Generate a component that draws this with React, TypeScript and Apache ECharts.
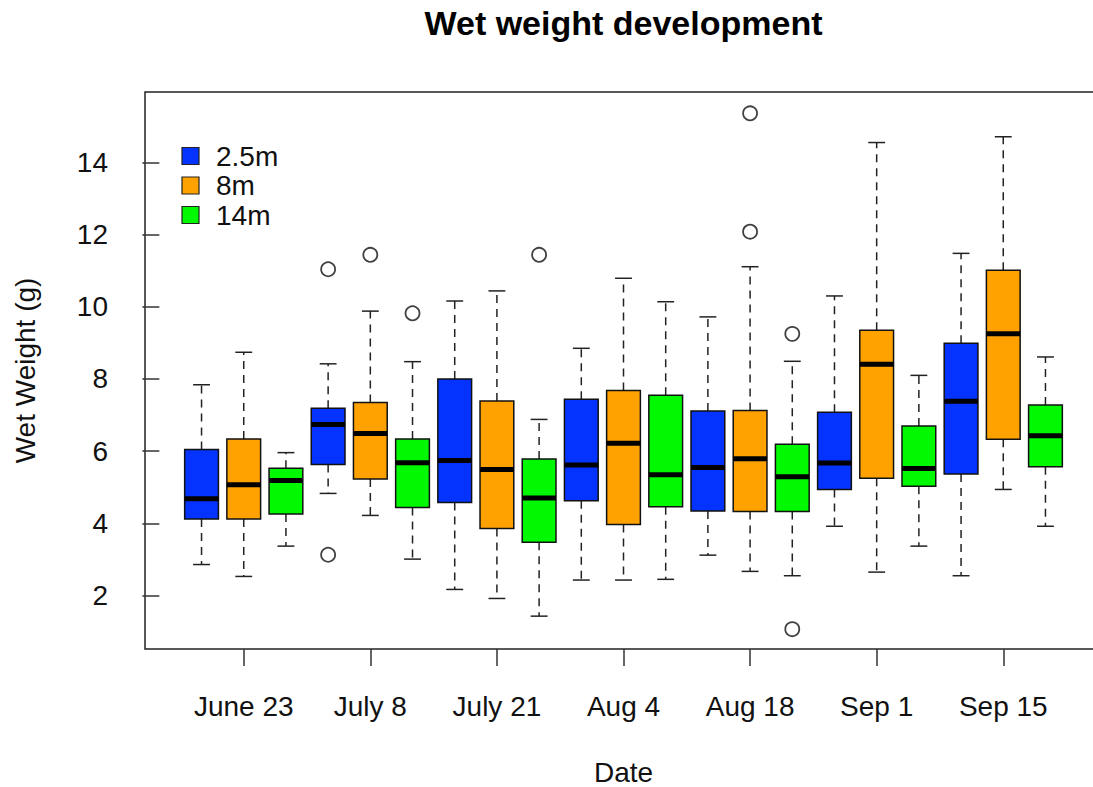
import React, { useEffect, useRef } from "react";
import * as echarts from "echarts";

const dates = ["June 23", "July 8", "July 21", "Aug 4", "Aug 18", "Sep 1", "Sep 15"];
const depths = ["2.5m", "8m", "14m"];
const depthColors = ["#0433FF", "#FFA200", "#00F900"];

// [lower whisker, Q1, median, Q3, upper whisker] per date
const stats2_5m = [
  [2.86, 4.12, 4.68, 6.05, 7.84],
  [4.83, 5.63, 6.74, 7.19, 8.42],
  [2.17, 4.58, 5.74, 8.0, 10.16],
  [2.43, 4.63, 5.62, 7.44, 8.85],
  [3.12, 4.34, 5.55, 7.11, 9.72],
  [3.92, 4.94, 5.67, 7.08, 10.3],
  [2.55, 5.37, 7.38, 8.99, 11.48],
];
const stats8m = [
  [2.53, 4.12, 5.07, 6.34, 8.74],
  [4.22, 5.23, 6.49, 7.35, 9.88],
  [1.92, 3.86, 5.49, 7.39, 10.44],
  [2.43, 3.97, 6.22, 7.68, 10.79],
  [2.67, 4.33, 5.79, 7.13, 11.11],
  [2.65, 5.25, 8.41, 9.35, 14.55],
  [4.94, 6.33, 9.25, 11.01, 14.71],
];
const stats14m = [
  [3.37, 4.26, 5.19, 5.53, 5.96],
  [3.01, 4.44, 5.68, 6.34, 8.48],
  [1.43, 3.48, 4.7, 5.78, 6.88],
  [2.45, 4.46, 5.35, 7.55, 10.14],
  [2.55, 4.33, 5.29, 6.19, 8.49],
  [3.37, 5.03, 5.52, 6.7, 8.1],
  [3.92, 5.57, 6.43, 7.28, 8.61],
];
// [date index, depth index, value]
const outliers = [
  [1, 0, 11.04],
  [1, 0, 3.13],
  [1, 1, 11.44],
  [1, 2, 9.82],
  [2, 2, 11.44],
  [4, 1, 15.36],
  [4, 1, 12.08],
  [4, 2, 9.25],
  [4, 2, 1.07],
];
const yTicks = [2, 4, 6, 8, 10, 12, 14];

const FONT = "'Liberation Sans', Arial, Helvetica, sans-serif";

export default function App() {
  const ref = useRef<HTMLDivElement>(null);
  useEffect(() => {
    if (!ref.current) return;
    const chart = echarts.init(ref.current, undefined, { renderer: "svg" });
    const allStats = [stats2_5m, stats8m, stats14m];
    const xTicks = dates.map((_, i) => i * 3 + 2);

    const boxSeries = allStats.map((st, d) => ({
      type: "custom",
      name: depths[d],
      data: st.map((s, i) => [i * 3 + d + 1, ...s]),
      encode: { x: 0, y: [1, 2, 3, 4, 5] },
      renderItem: (params: any, api: any) => {
        const x = api.value(0);
        const lo = api.coord([x, api.value(1)]);
        const q1 = api.coord([x, api.value(2)]);
        const md = api.coord([x, api.value(3)]);
        const q3 = api.coord([x, api.value(4)]);
        const hi = api.coord([x, api.value(5)]);
        const cx = lo[0];
        const half = api.size([0.8, 0])[0] / 2;
        const cap = half / 2;
        const wStyle = { stroke: "#222", lineWidth: 1.5, lineDash: [8, 6] };
        const sStyle = { stroke: "#222", lineWidth: 1.5 };
        return {
          type: "group",
          children: [
            { type: "line", shape: { x1: cx, y1: q3[1], x2: cx, y2: hi[1] }, style: wStyle },
            { type: "line", shape: { x1: cx, y1: q1[1], x2: cx, y2: lo[1] }, style: wStyle },
            { type: "line", shape: { x1: cx - cap, y1: hi[1], x2: cx + cap, y2: hi[1] }, style: sStyle },
            { type: "line", shape: { x1: cx - cap, y1: lo[1], x2: cx + cap, y2: lo[1] }, style: sStyle },
            {
              type: "rect",
              shape: { x: cx - half, y: q3[1], width: 2 * half, height: q1[1] - q3[1] },
              style: { fill: depthColors[d], stroke: "#111", lineWidth: 1.5 },
            },
            {
              type: "line",
              shape: { x1: cx - half, y1: md[1], x2: cx + half, y2: md[1] },
              style: { stroke: "#000", lineWidth: 5 },
            },
          ],
        };
      },
    }));

    const legendGraphics: any[] = [];
    depths.forEach((name, d) => {
      const cy = 156 + d * 29.5;
      legendGraphics.push({
        type: "rect",
        shape: { x: 182, y: cy - 8.5, width: 17, height: 17 },
        style: { fill: depthColors[d], stroke: "#222", lineWidth: 1.2 },
      });
      legendGraphics.push({
        type: "text",
        x: 216,
        y: cy,
        style: { text: name, fontSize: 28, fontFamily: FONT, fill: "#111", verticalAlign: "middle", align: "left" },
      });
    });

    chart.setOption({
      animation: false,
      backgroundColor: "#fff",
      grid: {
        left: 145,
        top: 92,
        width: 957,
        height: 557,
        show: true,
        borderColor: "#222",
        borderWidth: 1.5,
        backgroundColor: "transparent",
      },
      xAxis: {
        type: "value",
        min: -0.34,
        max: 22.34,
        axisLine: { show: false },
        splitLine: { show: false },
        axisTick: { show: true, customValues: xTicks, length: 17, lineStyle: { color: "#333", width: 1.5 } },
        axisLabel: {
          customValues: xTicks,
          formatter: (v: number) => dates[Math.round((v - 2) / 3)] ?? "",
          margin: 43,
          fontSize: 28,
          fontFamily: FONT,
          color: "#111",
        },
      },
      yAxis: {
        type: "value",
        min: 0.52,
        max: 15.95,
        axisLine: { show: false },
        splitLine: { show: false },
        axisTick: { show: true, customValues: yTicks, length: 17, lineStyle: { color: "#333", width: 1.5 } },
        axisLabel: {
          customValues: yTicks,
          margin: 37,
          fontSize: 28,
          fontFamily: FONT,
          color: "#111",
        },
      },
      series: [
        ...boxSeries,
        {
          type: "scatter",
          name: "outliers",
          symbol: "circle",
          symbolSize: 14,
          data: outliers.map((o) => [o[0] * 3 + o[1] + 1, o[2]]),
          itemStyle: { color: "rgba(255,255,255,0)", borderColor: "#111", borderWidth: 1.8 },
          z: 5,
        },
      ],
      graphic: [
        {
          type: "text",
          x: 623.5,
          y: 23,
          style: {
            text: "Wet weight development",
            fontSize: 34,
            fontWeight: "bold",
            fontFamily: FONT,
            fill: "#000",
            align: "center",
            verticalAlign: "middle",
          },
        },
        {
          type: "text",
          x: 623.5,
          y: 772,
          style: { text: "Date", fontSize: 28, fontFamily: FONT, fill: "#111", align: "center", verticalAlign: "middle" },
        },
        {
          type: "text",
          x: 25,
          y: 370.5,
          rotation: Math.PI / 2,
          style: {
            text: "Wet Weight (g)",
            fontSize: 28,
            fontFamily: FONT,
            fill: "#111",
            align: "center",
            verticalAlign: "middle",
          },
        },
        ...legendGraphics,
      ],
    });
    return () => chart.dispose();
  }, []);

  return (
    <div
      style={{
        position: "fixed",
        left: 0,
        top: 0,
        width: 1093,
        height: 787,
        overflow: "hidden",
        background: "#fff",
      }}
    >
      <div ref={ref} style={{ width: 1110, height: 787 }} />
    </div>
  );
}
